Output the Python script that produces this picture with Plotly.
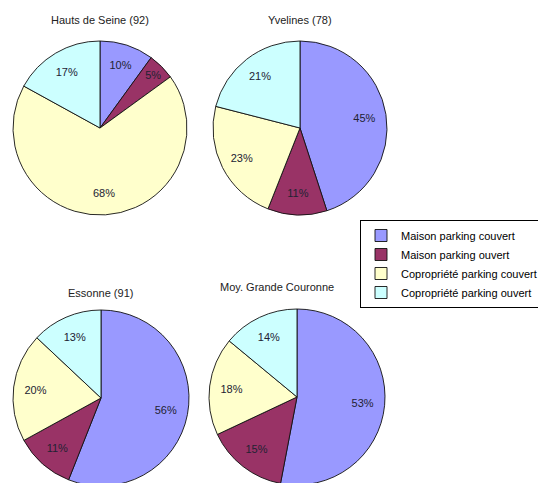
import plotly.graph_objects as go

categories = ["Maison parking couvert", "Maison parking ouvert",
              "Copropriété parking couvert", "Copropriété parking ouvert"]
titles = ["Hauts de Seine (92)", "Yvelines (78)", "Essonne (91)", "Moy. Grande Couronne"]
hauts_de_seine = [10, 5, 68, 17]
yvelines = [45, 11, 23, 21]
essonne = [56, 11, 20, 13]
moy_grande_couronne = [53, 15, 18, 14]

colors = ["#9999FF", "#993366", "#FFFFCC", "#CCFFFF"]

W, H = 546, 483
OFF = 8  # page body margin offset

def dom(cx, cy, r):
    cx, cy = cx - OFF, cy - OFF
    x0, x1 = (cx - r) / W, (cx + r) / W
    y0, y1 = 1 - (cy + r) / H, 1 - (cy - r) / H
    return dict(x=[max(0, x0), min(1, x1)], y=[max(0, y0), min(1, y1)])

series = [hauts_de_seine, yvelines, essonne, moy_grande_couronne]
geoms = [(100, 128, 87), (300, 128, 87), (101, 398, 88), (297, 397, 88)]
title_pos = [(100, 18), (300, 18), (100, 291), (277, 285)]

fig = go.Figure()
# filled pies
for i, (vals, g) in enumerate(zip(series, geoms)):
    fig.add_trace(go.Pie(
        labels=categories, values=vals, sort=False, direction="clockwise",
        rotation=0, domain=dom(*g),
        marker=dict(colors=colors, line=dict(color="#111111", width=0.9)),
        textinfo="none", hoverinfo="label+percent", showlegend=(i == 0),
    ))
# label layers (ring, transparent) so labels sit toward the outer part of slices
for i, (vals, g) in enumerate(zip(series, geoms)):
    fig.add_trace(go.Pie(
        labels=categories, values=vals, sort=False, direction="clockwise",
        rotation=0, domain=dom(*g), hole=0.5,
        marker=dict(colors=["rgba(0,0,0,0)"] * 4, line=dict(width=0)),
        texttemplate="%{value}%", textposition="inside",
        insidetextorientation="horizontal",
        textfont=dict(family="Arial, Liberation Sans", size=11, color="#222233"),
        hoverinfo="skip", showlegend=False,
    ))

for t, (x, y) in zip(titles, title_pos):
    fig.add_annotation(text=t, x=(x - OFF) / W, y=1 - (y - OFF + 2) / H,
                       xref="paper", yref="paper",
                       showarrow=False, xanchor="center", yanchor="middle",
                       font=dict(family="Arial, Liberation Sans", size=11, color="#222222"))

fig.update_layout(
    width=W, height=H,
    margin=dict(l=0, r=0, t=0, b=0, autoexpand=False),
    paper_bgcolor="white", plot_bgcolor="white",
    legend=dict(x=(360 - OFF) / W, y=1 - (220 - OFF) / H, xanchor="left", yanchor="top",
                bordercolor="#000000", borderwidth=1, bgcolor="white",
                font=dict(family="Arial, Liberation Sans", size=11, color="#000000"),
                itemwidth=30, tracegroupgap=0),
)

fig.write_html("out.html")
